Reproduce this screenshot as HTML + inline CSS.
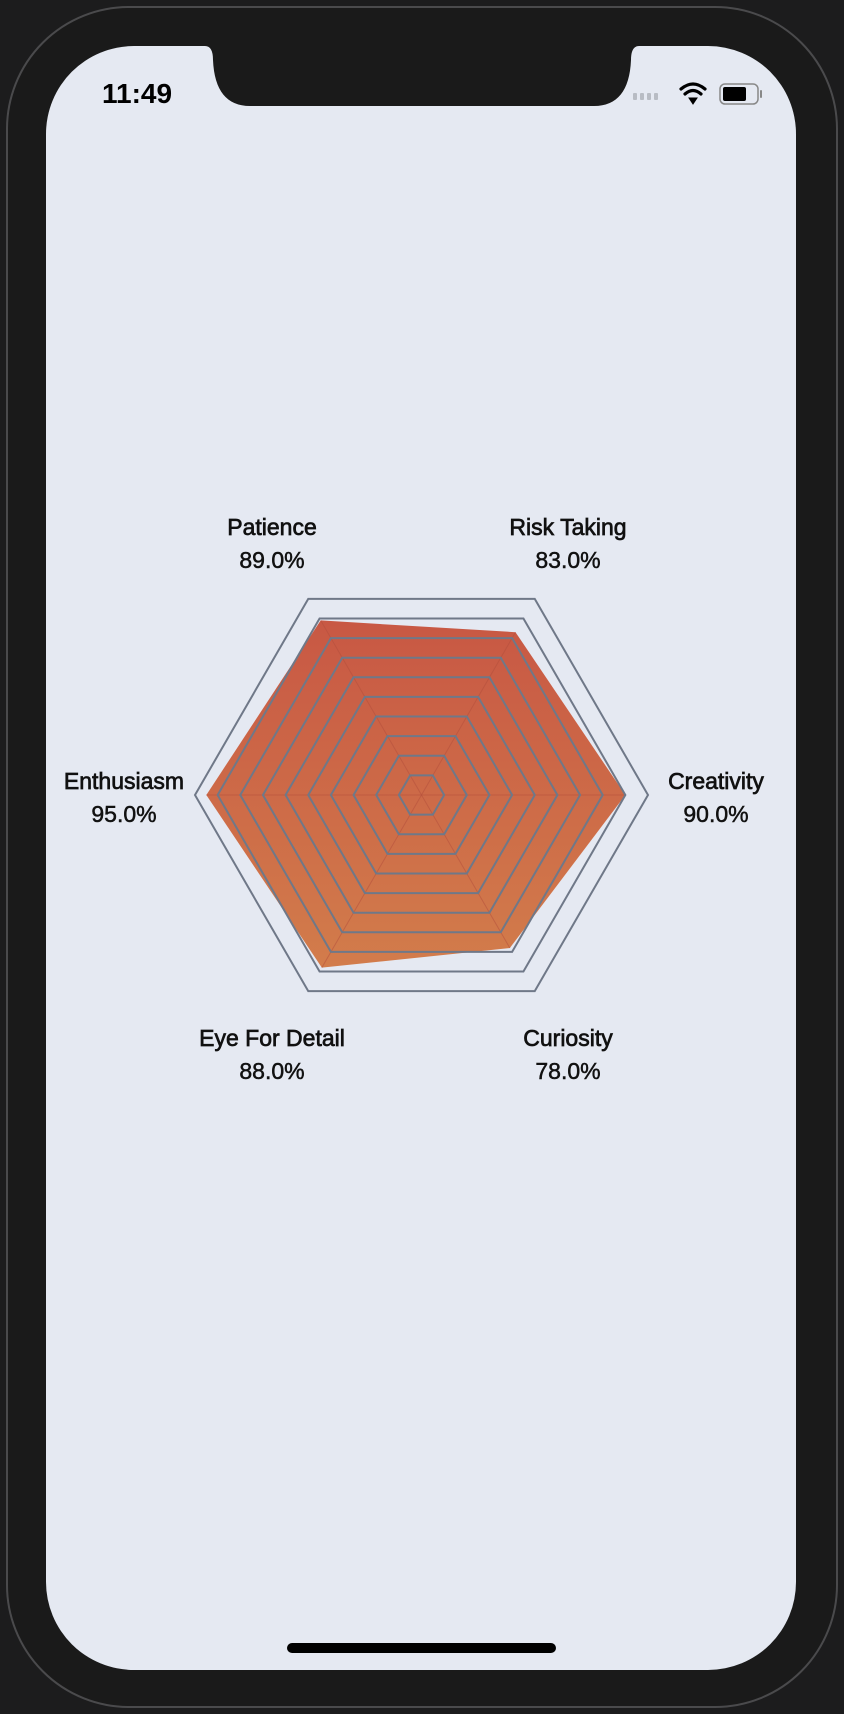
<!DOCTYPE html>
<html><head><meta charset="utf-8">
<style>
html,body{margin:0;padding:0;width:844px;height:1714px;background:#1c1c1d;overflow:hidden;font-family:"Liberation Sans",sans-serif;}
svg{display:block}
</style></head>
<body>
<svg id="root" width="844" height="1714" viewBox="0 0 844 1714">
  <defs>
    <linearGradient id="fillGrad" x1="0" y1="0" x2="0" y2="1">
      <stop offset="0" stop-color="#c85844"/>
      <stop offset="1" stop-color="#d27c4b"/>
    </linearGradient>
  </defs>
  <rect x="7" y="7" width="830" height="1700" rx="122" fill="#1a1a1a" stroke="#4a4a4c" stroke-width="2"/>
  <rect x="46" y="46" width="750" height="1624" rx="88" fill="#e5e9f2"/>
  <path d="M205 46 Q213 46 213 60 Q215 106 250 106 L594 106 Q629 106 631 60 Q631 46 639 46 Z" fill="#1a1a1a"/>
  <text x="102" y="103" font-size="28" font-weight="bold" fill="#000">11:49</text>
  <g fill="#b8bcc4">
    <rect x="633" y="93" width="4" height="7" rx="1"/><rect x="640" y="93" width="4" height="7" rx="1"/><rect x="647" y="93" width="4" height="7" rx="1"/><rect x="654" y="93" width="4" height="7" rx="1"/>
  </g>
  <g fill="none" stroke="#000" stroke-width="3.2" stroke-linecap="round">
    <path d="M681 89 Q693 79 705 89"/><path d="M685 94 Q693 87 701 94"/>
    <path d="M689 98 L693 104 L697 98 Z" fill="#000" stroke-width="1"/>
  </g>
  <g>
    <rect x="720" y="84" width="38" height="20" rx="5" fill="none" stroke="#888" stroke-width="1.5"/>
    <rect x="723" y="87" width="23" height="14" rx="2" fill="#000"/>
    <rect x="760" y="90" width="2" height="8" rx="1" fill="#888"/>
  </g>
  <g id="chart"></g>
  <rect x="287" y="1643" width="269" height="10" rx="5" fill="#000"/>
</svg>
<script>
const categories = ["Creativity","Risk Taking","Patience","Enthusiasm","Eye For Detail","Curiosity"];
const values = [90, 83, 89, 95, 88, 78];
const gridLevels = [10,20,30,40,50,60,70,80,90,100];
const maxValue = 100;

const NS = "http://www.w3.org/2000/svg";
const cx = 421.5, cy = 795, R = 226.5;
const chart = document.getElementById("chart");
function ang(i){ return i * Math.PI * 2 / categories.length; }
function rScale(v){ return v / maxValue * R; }
function pt(i, v){ const a = ang(i), r = rScale(v); return [cx + r*Math.cos(a), cy - r*Math.sin(a)]; }
function mk(tag, attrs){ const e = document.createElementNS(NS, tag); for (const k in attrs) e.setAttribute(k, attrs[k]); chart.appendChild(e); return e; }

const dataPts = values.map((v,i)=>pt(i,v).join(",")).join(" ");
const area = mk("polygon", {points: dataPts, fill: "url(#fillGrad)"});



categories.forEach((c,i)=>{
  const p = pt(i, values[i]);
  const l = mk("line", {x1: cx, y1: cy, x2: p[0], y2: p[1], stroke: "#b24e3c", "stroke-width": 1, opacity: 0.5});
  
  
});

gridLevels.forEach(lv=>{
  const pts = categories.map((c,i)=>pt(i,lv).join(",")).join(" ");
  const g = mk("polygon", {points: pts, fill: "none", stroke: "#6f7888", "stroke-width": 2});
  
  
});

const labelR = R + 66;
categories.forEach((c,i)=>{
  const a = ang(i);
  let x = cx + labelR*Math.cos(a), y = cy - labelR*Math.sin(a);
  if (i === 0) { x = 716; y = 795; }
  if (i === 3) { x = 124; y = 795; }
  if (i === 1 || i === 2) { y = 541; }
  if (i === 4 || i === 5) { y = 1052; }
  if (i === 1 || i === 5) x = 568;
  if (i === 2 || i === 4) x = 272;
  const t1 = mk("text", {x: x, y: y - 6, "text-anchor": "middle", "font-size": 23, fill: "#111", stroke: "#111", "stroke-width": 0.7});
  t1.textContent = c;
  
  
  const t2 = mk("text", {x: x, y: y + 27, "text-anchor": "middle", "font-size": 23, fill: "#111", stroke: "#111", "stroke-width": 0.5});
  t2.textContent = values[i].toFixed(1) + "%";
  
  
});
</script>
</body></html>
